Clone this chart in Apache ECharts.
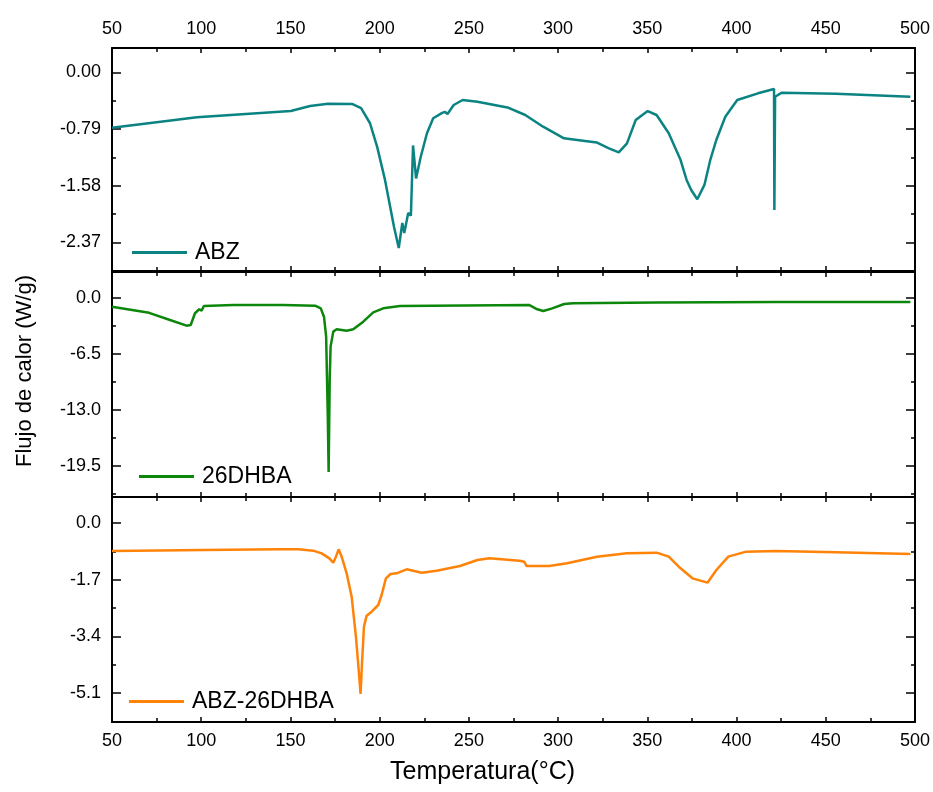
<!DOCTYPE html>
<html>
<head>
<meta charset="utf-8">
<script src="https://cdn.jsdelivr.net/npm/echarts@6/dist/echarts.min.js"></script>
<style>
html, body { margin: 0; padding: 0; background: #fff; }
#main { width: 933px; height: 792px; }
</style>
</head>
<body>
<div id="main"></div>
<script>
// ABZ
const abzT = [50, 97.6, 150.2, 161, 171, 184.5, 189.6, 194.6, 198.6, 203, 208, 210.7, 212.7, 213.8, 216, 217.5, 218.7, 220.4, 223, 226.5, 230, 234.8, 236.5, 238, 241.5, 246.5, 254.8, 271.6, 281.6, 291.6, 303.3, 315, 321.8, 328.5, 334, 338.6, 343.5, 350.2, 355.2, 362, 368.6, 372, 374.6, 378, 382, 385.3, 388.7, 393.7, 400.4, 412, 421, 421.2, 421.6, 425.4, 455.6, 497.4];
const abzQ = [-0.772, -0.627, -0.54, -0.47, -0.437, -0.44, -0.5, -0.71, -1.04, -1.5, -2.15, -2.45, -2.1, -2.24, -1.96, -2.0, -1.02, -1.48, -1.18, -0.85, -0.64, -0.57, -0.55, -0.58, -0.456, -0.386, -0.41, -0.49, -0.595, -0.758, -0.92, -0.958, -0.98, -1.06, -1.115, -0.99, -0.665, -0.54, -0.595, -0.85, -1.22, -1.5, -1.64, -1.77, -1.57, -1.22, -0.94, -0.62, -0.386, -0.293, -0.233, -1.92, -0.34, -0.284, -0.3, -0.34];

// 26DHBA
const dhbaT = [50, 70.8, 82.5, 91.8, 94.1, 96.5, 98.9, 100.2, 101.5, 118, 146, 163.8, 167, 168.8, 170, 170.9, 171.4, 172, 172.5, 174, 175.9, 181.5, 185.2, 190.8, 196.4, 202, 211.4, 283.7, 288.3, 291.7, 296.7, 303.4, 308.4, 355.2, 422, 497.4];
const dhbaQ = [-1.04, -1.75, -2.58, -3.24, -3.16, -1.8, -1.34, -1.5, -0.96, -0.84, -0.84, -0.92, -1.23, -2.2, -4.5, -13.4, -20.2, -9.5, -5.67, -3.93, -3.66, -3.82, -3.66, -2.78, -1.69, -1.23, -0.96, -0.84, -1.34, -1.54, -1.23, -0.73, -0.65, -0.54, -0.5, -0.5];

// ABZ-26DHBA
const coT = [50, 101, 144, 154.5, 162.8, 167.5, 171.8, 174, 175.5, 177, 178.7, 181.5, 184.3, 186.7, 188.4, 189.3, 190.2, 191.2, 192.7, 195.5, 199.2, 201.1, 203.5, 206.1, 209.5, 215.1, 218.8, 223.5, 231.9, 245, 254.8, 261.5, 278.3, 281, 282.3, 295, 305, 321.8, 338.5, 355.2, 362, 368.6, 375.3, 383.7, 388.7, 395.4, 405.4, 422, 455.6, 497.4];
const coQ = [-0.84, -0.81, -0.79, -0.79, -0.83, -0.91, -1.06, -1.19, -1.01, -0.79, -1.01, -1.51, -2.21, -3.41, -4.51, -5.13, -4.11, -3.11, -2.78, -2.66, -2.46, -2.16, -1.66, -1.53, -1.51, -1.39, -1.43, -1.49, -1.43, -1.29, -1.11, -1.06, -1.13, -1.16, -1.29, -1.29, -1.21, -1.01, -0.91, -0.89, -1.01, -1.36, -1.66, -1.79, -1.41, -1.01, -0.86, -0.84, -0.88, -0.93];

// y ticks per panel
const abzTicks = [0, -0.79, -1.58, -2.37];
const dhbaTicks = [0, -6.5, -13.0, -19.5];
const coTicks = [0, -1.7, -3.4, -5.1];

const myChart = echarts.init(document.getElementById("main"));
const font = "Liberation Sans";

const panels = [
    { name: "ABZ", t: abzT, q: abzQ, ticks: abzTicks, dec: 2, step: 0.79, min: -2.77, max: 0.339, color: "#0b8383", top: 48, height: 223, legendTop: 241, legendLeft: 132 },
    { name: "26DHBA", t: dhbaT, q: dhbaQ, ticks: dhbaTicks, dec: 1, step: 6.5, min: -23.09, max: 2.98, color: "#0c870c", top: 272, height: 225, legendTop: 465, legendLeft: 139 },
    { name: "ABZ-26DHBA", t: coT, q: coQ, ticks: coTicks, dec: 1, step: 1.7, min: -5.97, max: 0.78, color: "#ff8308", top: 497, height: 225, legendTop: 690, legendLeft: 129 },
];

let grid = [], xAxis = [], yAxis = [], series = [], legend = [];

panels.forEach((p, g) => {
    grid.push({ left: 112, right: 18, top: p.top, height: p.height });
    const minor = p.ticks.map((v) => v - p.step / 2).filter((v) => v > p.min);

    ["bottom", "top"].forEach((pos) => {
        const showLabel = (g === 0 && pos === "top") || (g === 2 && pos === "bottom");
        xAxis.push({
            type: "value",
            gridIndex: g,
            position: pos,
            min: 50,
            max: 500,
            interval: 50,
            axisLine: { show: true, onZero: false, lineStyle: { color: "#000", width: 2 } },
            axisTick: { show: true, inside: true, length: 5, lineStyle: { color: "#000", width: 1.5 } },
            minorTick: { show: true, splitNumber: 2, length: 4, lineStyle: { color: "#000", width: 1.5 } },
            splitLine: { show: false },
            axisLabel: { show: showLabel, color: "#000", fontSize: 18, fontFamily: font, margin: 10 },
        });
    });

    ["left", "right"].forEach((pos) => {
        yAxis.push({
            type: "value",
            gridIndex: g,
            position: pos,
            min: p.min,
            max: p.max,
            axisLine: { show: true, onZero: false, lineStyle: { color: "#000", width: 2 } },
            axisTick: { show: true, inside: true, length: 9, customValues: p.ticks, lineStyle: { color: "#000", width: 1.5 } },
            splitLine: { show: false },
            axisLabel: {
                show: pos === "left",
                customValues: p.ticks,
                formatter: (v) => v.toFixed(p.dec),
                color: "#000",
                fontSize: 18,
                fontFamily: font,
                margin: 11,
            },
        });
        yAxis.push({
            type: "value",
            gridIndex: g,
            position: pos,
            min: p.min,
            max: p.max,
            axisLine: { show: false, onZero: false },
            axisTick: { show: true, inside: true, length: 4, customValues: minor, lineStyle: { color: "#000", width: 1.5 } },
            splitLine: { show: false },
            axisLabel: { show: false },
        });
    });

    series.push({
        name: p.name,
        type: "line",
        xAxisIndex: 2 * g,
        yAxisIndex: 4 * g,
        symbol: "none",
        lineStyle: { color: p.color, width: 2.5 },
        itemStyle: { color: p.color },
        data: p.t.map((t, i) => [t, p.q[i]]),
    });

    legend.push({
        data: [{ name: p.name, icon: "rect" }],
        left: p.legendLeft,
        top: p.legendTop,
        padding: 0,
        itemWidth: 55,
        itemHeight: 3,
        itemGap: 0,
        textStyle: { color: "#000", fontSize: 23, fontFamily: font, padding: [0, 0, 0, 3] },
    });
});

let option = {
    animation: false,
    backgroundColor: "#fff",
    grid: grid,
    xAxis: xAxis,
    yAxis: yAxis,
    legend: legend,
    series: series,
    graphic: [
        {
            type: "text",
            left: 390,
            top: 760,
            style: { text: "Temperatura(°C)", fontSize: 25, fontFamily: font, fill: "#000" },
        },
        {
            type: "text",
            x: 25,
            y: 371,
            rotation: Math.PI / 2,
            style: { text: "Flujo de calor (W/g)", fontSize: 22, fontFamily: font, fill: "#000", align: "center", verticalAlign: "middle" },
        },
    ],
};
myChart.setOption(option);
</script>
</body>
</html>
